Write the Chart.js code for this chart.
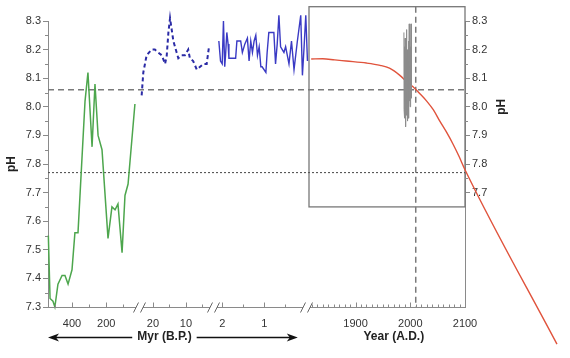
<!DOCTYPE html>
<html>
<head>
<meta charset="utf-8">
<script src="https://cdn.jsdelivr.net/npm/chart.js@4.4.1/dist/chart.umd.min.js"></script>
<style>
  html, body { margin: 0; padding: 0; background: #fff; }
</style>
</head>
<body>
<canvas id="myChart" width="570" height="358"></canvas>
<script>
// green: Phanerozoic pH reconstruction, Myr B.P.
const paleoMyr = [538, 528, 511, 500, 482, 458, 441, 423, 400, 383, 365, 324, 307, 283, 266, 248, 225, 190, 167, 149, 132, 108, 91, 73, 33];
const paleoPH  = [7.55, 7.33, 7.32, 7.30, 7.38, 7.41, 7.41, 7.38, 7.43, 7.56, 7.56, 8.02, 8.12, 7.86, 8.08, 7.90, 7.85, 7.54, 7.65, 7.64, 7.66, 7.49, 7.69, 7.73, 8.01];

// blue dashed: last ~24 Myr
const neogeneMyr = [23.4, 22.9, 21.9, 20.4, 19.4, 18.4, 17.3, 16.3, 15.8, 15.3, 14.8, 14.3, 13.8, 12.8, 12.3, 11.3, 10.3, 9.3, 8.8, 7.8, 6.7, 5.7, 4.7, 3.7, 3.0];
const neogenePH  = [8.04, 8.12, 8.18, 8.20, 8.20, 8.19, 8.18, 8.15, 8.18, 8.26, 8.31, 8.27, 8.23, 8.19, 8.17, 8.18, 8.18, 8.20, 8.17, 8.16, 8.13, 8.14, 8.15, 8.15, 8.21];

// blue solid: last 2 Myr
const pleistMyr = [2.08, 2.04, 2.00, 1.97, 1.94, 1.92, 1.89, 1.86, 1.84, 1.80, 1.68, 1.65, 1.56, 1.52, 1.46, 1.40, 1.36, 1.32, 1.28, 1.24, 1.20, 1.16, 1.12, 1.08, 1.05, 0.96, 0.93, 0.89, 0.77, 0.73, 0.69, 0.65, 0.61, 0.53, 0.49, 0.41, 0.35, 0.29, 0.21, 0.13, 0.09, 0.05, 0.01, -0.03];
const pleistPH  = [8.23, 8.16, 8.15, 8.30, 8.14, 8.18, 8.26, 8.22, 8.17, 8.17, 8.17, 8.23, 8.23, 8.19, 8.22, 8.24, 8.16, 8.23, 8.19, 8.23, 8.25, 8.18, 8.21, 8.14, 8.14, 8.12, 8.19, 8.26, 8.26, 8.15, 8.22, 8.32, 8.21, 8.19, 8.21, 8.15, 8.23, 8.13, 8.23, 8.32, 8.11, 8.21, 8.32, 8.16];

// grey: measured surface pH
const obsYear = [1988.4, 1988.7, 1989.1, 1989.3, 1989.8, 1990.0, 1990.5, 1990.7, 1991.2, 1991.4, 1991.9, 1992.1, 1992.6, 1992.8, 1993.3, 1993.5, 1993.9, 1994.2, 1994.6, 1994.9, 1995.3, 1995.5, 1996.0, 1996.2, 1996.7, 1996.9, 1997.4, 1997.6, 1998.1, 1998.3, 1998.8, 1999.0, 1999.5, 1999.7, 2000.2, 2000.4, 2000.9, 2001.1, 2001.6, 2001.9];
const obsPH   = [8.26, 7.99, 8.21, 7.96, 8.18, 8.02, 8.24, 7.94, 8.15, 8.00, 8.22, 7.93, 8.17, 8.03, 8.27, 7.97, 8.12, 8.05, 8.20, 7.95, 8.19, 8.01, 8.16, 7.98, 8.23, 8.04, 8.14, 7.96, 8.29, 8.02, 8.18, 8.06, 8.28, 8.00, 8.21, 8.05, 8.17, 8.08, 8.29, 8.03];

// red: modelled pH, years A.D.
const modelYear = [1819, 1840, 1862, 1883, 1920, 1945, 1962, 1981, 1995, 2005, 2018, 2030, 2042, 2054, 2066, 2078, 2089, 2100, 2268];
const modelPH   = [8.167, 8.168, 8.164, 8.160, 8.153, 8.145, 8.135, 8.11, 8.085, 8.07, 8.045, 8.02, 7.99, 7.95, 7.912, 7.87, 7.827, 7.78, 7.17];

const refPH = [8.06, 7.77];       // dashed, dotted
const refYear = 2010;
const insetYears = [1815, 2100];
const insetPH = [7.65, 8.35];

// tick labels per axis piece
const ticksOld = [400, 200];
const ticksMid = [20, 10];
const ticksYoung = [2, 1];
const ticksYears = [1900, 2000, 2100];
const minorOld = [500, 300, 100];
const minorMid = [15, 5];
const minorYoung = [1.5, 0.5];

// broken x axis: each piece maps its own range onto part of a shared axis
const segs = {
  old:   { from: 540,  to: 25,    u0: 0,   u1: 88.3 },
  mid:   { from: 23.6, to: 3.0,   u0: 93,  u1: 161 },
  young: { from: 2.1,  to: -0.05, u0: 170, u1: 260.3 },
  years: { from: 1815, to: 2100,  u0: 261, u1: 417 }
};
const axisPieces = [[0, 88], [95, 162], [169, 255], [262, 417]];
const AXIS_END = 417;

function toU(seg, v) {
  const s = segs[seg];
  return s.u0 + (v - s.from) / (s.to - s.from) * (s.u1 - s.u0);
}
function pts(seg, xs, ys) {
  return xs.map((v, i) => ({ x: toU(seg, v), y: ys[i] }));
}

const labelTicks = [].concat(
  ticksOld.map(v => ({ u: toU('old', v), label: String(v) })),
  ticksMid.map(v => ({ u: toU('mid', v), label: String(v) })),
  ticksYoung.map(v => ({ u: toU('young', v), label: String(v) })),
  ticksYears.map(v => ({ u: toU('years', v), label: String(v) }))
);
const minorU = [].concat(
  minorOld.map(v => toU('old', v)),
  minorMid.map(v => toU('mid', v)),
  minorYoung.map(v => toU('young', v))
);
for (let y = 1820; y < 2100; y += 10) {
  if (y !== 1900 && y !== 2000) minorU.push(toU('years', y));
}

const FONT = '"Liberation Sans", Arial, Helvetica, sans-serif';
const AXIS = '#8a8a8a';

const decor = {
  id: 'decor',
  beforeDatasetsDraw(chart) {
    const { ctx } = chart;
    const xs = chart.scales.x, ys = chart.scales.y;
    ctx.save();
    // inset box
    const bx0 = xs.getPixelForValue(toU('years', insetYears[0]));
    const bx1 = xs.getPixelForValue(toU('years', insetYears[1]));
    const by0 = ys.getPixelForValue(insetPH[1]);
    const by1 = ys.getPixelForValue(insetPH[0]);
    ctx.strokeStyle = '#777';
    ctx.lineWidth = 1.3;
    ctx.strokeRect(bx0, by0, bx1 - bx0, by1 - by0);
    // reference levels
    const L = chart.chartArea.left, R = chart.chartArea.right;
    ctx.strokeStyle = '#7a7a7a';
    ctx.lineWidth = 1.5;
    ctx.setLineDash([6, 4]);
    let y = ys.getPixelForValue(refPH[0]);
    ctx.beginPath(); ctx.moveTo(L, y); ctx.lineTo(R, y); ctx.stroke();
    const vx = xs.getPixelForValue(toU('years', refYear));
    ctx.beginPath(); ctx.moveTo(vx, by0); ctx.lineTo(vx, chart.chartArea.bottom); ctx.stroke();
    ctx.strokeStyle = '#555';
    ctx.lineWidth = 1.1;
    ctx.setLineDash([2, 2]);
    y = ys.getPixelForValue(refPH[1]);
    ctx.beginPath(); ctx.moveTo(L, y); ctx.lineTo(R, y); ctx.stroke();
    ctx.restore();
  },
  afterDraw(chart) {
    const { ctx } = chart;
    const xs = chart.scales.x, ys = chart.scales.y, yr = chart.scales.yR;
    const base = chart.chartArea.bottom + 0.5;
    ctx.save();
    ctx.strokeStyle = AXIS;
    ctx.lineWidth = 1;
    // broken axis line
    axisPieces.forEach(([a, b]) => {
      ctx.beginPath();
      ctx.moveTo(xs.getPixelForValue(a), base);
      ctx.lineTo(xs.getPixelForValue(b), base);
      ctx.stroke();
    });
    // break marks
    ctx.strokeStyle = '#666';
    axisPieces.forEach(([a, b], i) => {
      [a, b].forEach((u, j) => {
        if ((i === 0 && j === 0) || (i === axisPieces.length - 1 && j === 1)) return;
        const px = xs.getPixelForValue(u);
        ctx.beginPath();
        ctx.moveTo(px - 2.5, base + 5);
        ctx.lineTo(px + 2.5, base - 5);
        ctx.stroke();
      });
    });
    // x ticks pointing up
    ctx.strokeStyle = AXIS;
    labelTicks.forEach(t => {
      const px = Math.round(xs.getPixelForValue(t.u)) + 0.5;
      ctx.beginPath(); ctx.moveTo(px, base); ctx.lineTo(px, base - 5); ctx.stroke();
    });
    minorU.forEach(u => {
      const px = Math.round(xs.getPixelForValue(u)) + 0.5;
      ctx.beginPath(); ctx.moveTo(px, base); ctx.lineTo(px, base - 3); ctx.stroke();
    });
    // minor y ticks
    for (let v = 7.35; v < 8.3; v += 0.1) {
      const py = Math.round(ys.getPixelForValue(v)) + 0.5;
      ctx.beginPath(); ctx.moveTo(ys.right - 3, py); ctx.lineTo(ys.right, py); ctx.stroke();
      if (v > 7.7) {
        ctx.beginPath(); ctx.moveTo(yr.left, py); ctx.lineTo(yr.left + 3, py); ctx.stroke();
      }
    }
    // right axis title, centred on the labelled part
    ctx.fillStyle = '#222';
    ctx.font = 'bold 12px ' + FONT;
    ctx.textAlign = 'center';
    ctx.textBaseline = 'middle';
    ctx.save();
    ctx.translate(yr.left + 37, (yr.getPixelForValue(8.3) + yr.getPixelForValue(7.7)) / 2);
    ctx.rotate(-Math.PI / 2);
    ctx.fillText('pH', 0, 0);
    ctx.restore();
    // bottom titles with arrows
    const ay = chart.height - 21;
    const myrText = 'Myr (B.P.)';
    const cx = xs.getPixelForValue(toU('mid', 16.5));
    const w = ctx.measureText(myrText).width;
    ctx.fillText(myrText, cx, ay);
    ctx.fillText('Year (A.D.)', xs.getPixelForValue(toU('years', 1970)), ay);
    const leftTip = xs.getPixelForValue(0);
    const rightTip = xs.getPixelForValue(toU('young', 0.2));
    ctx.strokeStyle = '#111';
    ctx.lineWidth = 1.3;
    ctx.beginPath();
    ctx.moveTo(leftTip + 4, ay + 0.5); ctx.lineTo(cx - w / 2 - 5, ay + 0.5);
    ctx.moveTo(cx + w / 2 + 5, ay + 0.5); ctx.lineTo(rightTip - 4, ay + 0.5);
    ctx.stroke();
    ctx.fillStyle = '#111';
    [[leftTip, 1], [rightTip, -1]].forEach(([tx, d]) => {
      ctx.beginPath();
      ctx.moveTo(tx, ay + 0.5);
      ctx.lineTo(tx + d * 11, ay - 3.5);
      ctx.lineTo(tx + d * 8, ay + 0.5);
      ctx.lineTo(tx + d * 11, ay + 4.5);
      ctx.closePath();
      ctx.fill();
    });
    ctx.restore();
  }
};

const line = (data, color, width, extra) => Object.assign({
  data, borderColor: color, borderWidth: width, pointRadius: 0,
  fill: false, tension: 0, clip: false, yAxisID: 'y'
}, extra || {});

const ctx = document.getElementById('myChart').getContext('2d');
const myChart = new Chart(ctx, {
  type: 'line',
  data: {
    datasets: [
      line(pts('old', paleoMyr, paleoPH), '#4da64d', 1.5),
      line(pts('mid', neogeneMyr, neogenePH), '#2b2ba6', 2, { borderDash: [4, 3] }),
      line(pts('young', pleistMyr, pleistPH), '#3a3ac4', 1.4),
      line(pts('years', obsYear, obsPH), '#8c8c8c', 1),
      line(pts('years', modelYear, modelPH), '#e0533c', 1.4, { cubicInterpolationMode: 'monotone' })
    ]
  },
  options: {
    responsive: false,
    animation: false,
    layout: { padding: { top: 21, left: 0, right: 0, bottom: 0 } },
    plugins: { legend: { display: false }, tooltip: { enabled: false } },
    scales: {
      x: {
        type: 'linear',
        bounds: 'data',
        // range set here (not min/max) so the projection past 2100 is still drawn
        afterDataLimits: (scale) => { scale.min = 0; scale.max = AXIS_END; },
        grid: { display: false },
        border: { display: false },
        afterBuildTicks: (scale) => { scale.ticks = labelTicks.map(t => ({ value: t.u })); },
        afterFit: (scale) => { scale.height = 51; },
        ticks: {
          autoSkip: false,
          maxRotation: 0,
          padding: 2,
          color: '#333',
          font: { family: FONT, size: 11 },
          callback: (v, i) => labelTicks[i] ? labelTicks[i].label : ''
        }
      },
      y: {
        position: 'left',
        min: 7.3,
        max: 8.3,
        afterFit: (scale) => { scale.width = 48; },
        grid: { drawOnChartArea: false, tickLength: 5, tickColor: AXIS },
        border: { color: AXIS },
        ticks: {
          stepSize: 0.1,
          padding: 2,
          color: '#333',
          font: { family: FONT, size: 11 },
          callback: (v) => v.toFixed(1)
        },
        title: {
          display: true,
          text: 'pH',
          color: '#222',
          padding: { top: 4, bottom: 0 },
          font: { family: FONT, size: 12, weight: 'bold' }
        }
      },
      yR: {
        position: 'right',
        min: 7.3,
        max: 8.3,
        afterFit: (scale) => { scale.width = 105; },
        grid: {
          drawOnChartArea: false,
          tickLength: 5,
          tickColor: (c) => (c.tick && c.tick.value < 7.69) ? 'rgba(0,0,0,0)' : AXIS
        },
        border: { color: AXIS },
        ticks: {
          stepSize: 0.1,
          padding: 2,
          color: '#333',
          font: { family: FONT, size: 11 },
          callback: (v) => v >= 7.69 ? v.toFixed(1) : ''
        }
      }
    }
  },
  plugins: [decor]
});
</script>
</body>
</html>
